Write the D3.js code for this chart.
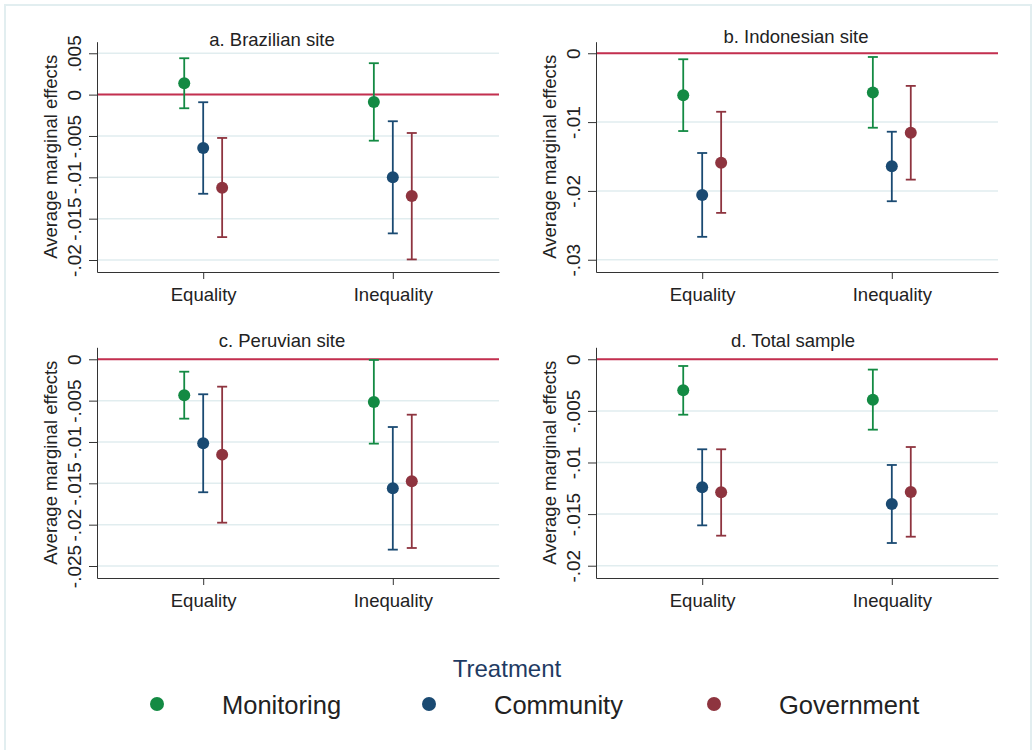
<!DOCTYPE html>
<html>
<head>
<meta charset="utf-8">
<script src="https://cdn.jsdelivr.net/npm/d3@7"></script>
<style>
  body { margin: 0; background: #fff; }
  svg { display: block; font-family: "Liberation Sans", Arial, sans-serif; }
</style>
</head>
<body>
<svg id="chart" width="1034" height="750"></svg>
<script>
// categories and series
const groups = ["Equality", "Inequality"];
const treatments = ["Monitoring", "Community", "Government"];
const treatColors = ["#138a43", "#1a4a72", "#8e343f"];

// values in order: Equality (M, C, G), Inequality (M, C, G)
const brazilEst  = [0.00138, -0.00645, -0.01126, -0.00088, -0.0100, -0.01226];
const brazilLow  = [-0.00165, -0.01199, -0.01723, -0.00557, -0.01678, -0.01993];
const brazilHigh = [0.0044, -0.00092, -0.00524, 0.0038, -0.00322, -0.00464];

const indoEst  = [-0.00609, -0.02058, -0.0159, -0.00571, -0.01643, -0.01155];
const indoLow  = [-0.0113, -0.02667, -0.02319, -0.01082, -0.0215, -0.01836];
const indoHigh = [-0.00087, -0.01449, -0.0085, -0.00054, -0.0114, -0.00474];

const peruEst  = [-0.00435, -0.01016, -0.01153, -0.00516, -0.0156, -0.01475];
const peruLow  = [-0.00718, -0.01608, -0.01976, -0.0102, -0.02302, -0.02282];
const peruHigh = [-0.0015, -0.00423, -0.00331, -0.00008, -0.00819, -0.0067];

const totalEst  = [-0.0030, -0.0124, -0.01289, -0.00391, -0.01402, -0.01286];
const totalLow  = [-0.00537, -0.01609, -0.01709, -0.00682, -0.0178, -0.01719];
const totalHigh = [-0.00065, -0.00872, -0.00872, -0.001, -0.01024, -0.0085];

// y ticks per panel
const brazilTicks = [0.005, 0, -0.005, -0.01, -0.015, -0.02];
const indoTicks = [0, -0.01, -0.02, -0.03];
const peruTicks = [0, -0.005, -0.01, -0.015, -0.02, -0.025];
const totalTicks = [0, -0.005, -0.01, -0.015, -0.02];

const panels = [
  { title: "a. Brazilian site", est: brazilEst, low: brazilLow, high: brazilHigh, ticks: brazilTicks,
    domain: [-0.02145, 0.0064], x0: 97, x1: 499, y0: 41.7, y1: 272, tx: 272, ty: 45.5 },
  { title: "b. Indonesian site", est: indoEst, low: indoLow, high: indoHigh, ticks: indoTicks,
    domain: [-0.03178, 0.00168], x0: 596, x1: 998, y0: 41.7, y1: 272, tx: 796, ty: 42.5 },
  { title: "c. Peruvian site", est: peruEst, low: peruLow, high: peruHigh, ticks: peruTicks,
    domain: [-0.02645, 0.00145], x0: 97, x1: 499, y0: 347.3, y1: 578, tx: 282, ty: 347.3 },
  { title: "d. Total sample", est: totalEst, low: totalLow, high: totalHigh, ticks: totalTicks,
    domain: [-0.02119, 0.00116], x0: 596, x1: 998, y0: 347.3, y1: 578, tx: 793, ty: 347.3 }
];

// Stata style numbers: .005, -.01, 0
function stataFmt(v) {
  if (Math.abs(v) < 1e-12) return "0";
  let s = String(+v.toFixed(4));
  return s.replace(/^(-?)0\./, "$1.");
}

const svg = d3.select("#chart");
const textColor = "#222";

// outer frame
svg.append("rect")
  .attr("x", 5).attr("y", 5)
  .attr("width", 1026).attr("height", 770)
  .attr("fill", "#fff")
  .attr("stroke", "#e2eef0")
  .attr("stroke-width", 2);

panels.forEach(p => {
  const g = svg.append("g");

  const x = d3.scaleLinear().domain([0.44, 2.56]).range([p.x0, p.x1]);
  const y = d3.scaleLinear().domain(p.domain).range([p.y1, p.y0]);

  // gridlines
  g.append("g").selectAll("line")
    .data(p.ticks)
    .enter().append("line")
    .attr("x1", p.x0).attr("x2", p.x1)
    .attr("y1", d => y(d)).attr("y2", d => y(d))
    .attr("stroke", "#e1edef")
    .attr("stroke-width", 1.5);

  // zero reference line
  g.append("line")
    .attr("x1", p.x0).attr("x2", p.x1)
    .attr("y1", y(0)).attr("y2", y(0))
    .attr("stroke", "#c42f4f")
    .attr("stroke-width", 2);

  // y axis
  const yAxis = g.append("g")
    .attr("transform", `translate(${p.x0},0)`)
    .call(d3.axisLeft(y).tickValues(p.ticks).tickFormat(stataFmt).tickSize(8).tickSizeOuter(0));
  yAxis.select(".domain").attr("stroke", "#333");
  yAxis.selectAll(".tick line").attr("stroke", "#333");
  yAxis.selectAll(".tick text")
    .attr("transform", "rotate(-90)")
    .attr("x", 0).attr("y", -16).attr("dy", 0)
    .attr("text-anchor", "middle")
    .attr("fill", textColor)
    .style("font-size", "19px")
    .style("font-family", "'Liberation Sans', Arial, sans-serif");

  // x axis
  const xAxis = g.append("g")
    .attr("transform", `translate(0,${p.y1})`)
    .call(d3.axisBottom(x).tickValues([1, 2]).tickFormat((d, i) => groups[i]).tickSize(7).tickSizeOuter(0));
  xAxis.select(".domain").attr("stroke", "#333");
  xAxis.selectAll(".tick line").attr("stroke", "#333");
  xAxis.selectAll(".tick text")
    .attr("y", 29).attr("dy", 0)
    .attr("fill", textColor)
    .style("font-size", "18.5px")
    .style("font-family", "'Liberation Sans', Arial, sans-serif");

  // y title
  g.append("text")
    .attr("transform", `translate(${p.x0 - 40},${(p.y0 + p.y1) / 2}) rotate(-90)`)
    .attr("text-anchor", "middle")
    .attr("fill", textColor)
    .style("font-size", "18.5px")
    .text("Average marginal effects");

  // panel title
  g.append("text")
    .attr("x", p.tx).attr("y", p.ty)
    .attr("text-anchor", "middle")
    .attr("fill", textColor)
    .style("font-size", "18.5px")
    .text(p.title);

  // points with confidence intervals
  const rows = p.est.map((v, i) => ({
    pos: Math.floor(i / 3) + 1 + (i % 3 - 1) * 0.1,
    est: v, low: p.low[i], high: p.high[i], color: treatColors[i % 3]
  }));

  const bars = g.append("g").selectAll("g")
    .data(rows)
    .enter().append("g");

  bars.append("line")
    .attr("x1", d => x(d.pos)).attr("x2", d => x(d.pos))
    .attr("y1", d => y(d.low)).attr("y2", d => y(d.high))
    .attr("stroke", d => d.color).attr("stroke-width", 1.8);
  bars.append("line")
    .attr("x1", d => x(d.pos) - 5).attr("x2", d => x(d.pos) + 5)
    .attr("y1", d => y(d.low)).attr("y2", d => y(d.low))
    .attr("stroke", d => d.color).attr("stroke-width", 1.8);
  bars.append("line")
    .attr("x1", d => x(d.pos) - 5).attr("x2", d => x(d.pos) + 5)
    .attr("y1", d => y(d.high)).attr("y2", d => y(d.high))
    .attr("stroke", d => d.color).attr("stroke-width", 1.8);
  bars.append("circle")
    .attr("cx", d => x(d.pos)).attr("cy", d => y(d.est))
    .attr("r", 6)
    .attr("fill", d => d.color);
});

// legend
svg.append("text")
  .attr("x", 507).attr("y", 677)
  .attr("text-anchor", "middle")
  .attr("fill", "#1f3b63")
  .style("font-size", "24px")
  .text("Treatment");

const legendX = [157, 429, 714];
const legend = svg.append("g").selectAll("g")
  .data(treatments)
  .enter().append("g");
legend.append("circle")
  .attr("cx", (d, i) => legendX[i]).attr("cy", 704)
  .attr("r", 7)
  .attr("fill", (d, i) => treatColors[i]);
legend.append("text")
  .attr("x", (d, i) => legendX[i] + 65).attr("y", 714)
  .attr("fill", textColor)
  .style("font-size", "25.5px")
  .text(d => d);
</script>
</body>
</html>
